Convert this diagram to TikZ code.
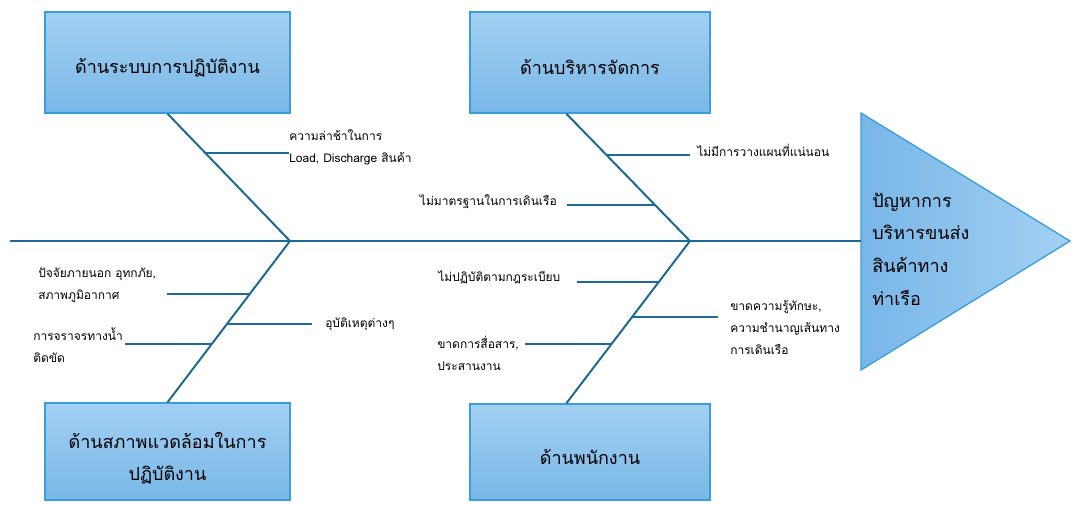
\documentclass[tikz,border=0pt]{standalone}
\usepackage{fontspec}
\setmainfont[Script=Thai]{Loma}
\usetikzlibrary{calc}
\definecolor{bone}{HTML}{1F6A93}
\definecolor{boxtop}{HTML}{A2D0F3}
\definecolor{boxbot}{HTML}{79B7E7}
\definecolor{boxline}{HTML}{3A9FD8}
\definecolor{trileft}{HTML}{78B6E8}
\definecolor{triright}{HTML}{A3D1F3}
\begin{document}
\begin{tikzpicture}[x=0.75pt,y=-0.75pt,
  bonestyle/.style={draw=bone,line width=1.5pt},
  cat/.style={rectangle,draw=boxline,line width=1pt,top color=boxtop,bottom color=boxbot},
  cattext/.style={font=\fontsize{13.5}{24}\selectfont,align=center,inner sep=0pt,text=black},
  lab/.style={font=\fontsize{9}{16.5}\selectfont,align=left,inner sep=0pt,text=black},
  headtext/.style={font=\fontsize{13.5}{24.5}\selectfont,align=left,inner sep=0pt,text=black}]
\useasboundingbox (0,0) rectangle (1072,505);

% category boxes
\node[cat,minimum width=183.75pt,minimum height=75.75pt] (b1) at (167.5,62.5) {};
\node[cat,minimum width=180pt,minimum height=75.75pt] (b2) at (590,62.5) {};
\node[cat,minimum width=183.75pt,minimum height=72.75pt] (b3) at (167.5,451.5) {};
\node[cat,minimum width=180pt,minimum height=72pt] (b4) at (590,452) {};
\node[cattext] (t1) at ($(b1)+(0,5)$) {ด้านระบบการปฏิบัติงาน};
\node[cattext] (t2) at ($(b2)+(0,5)$) {ด้านบริหารจัดการ};
\node[cattext] (t3) at ($(b3)+(0,7)$) {ด้านสภาพแวดล้อมในการ\\ปฏิบัติงาน};
\node[cattext] (t4) at ($(b4)+(0,5)$) {ด้านพนักงาน};

% head triangle
\path[draw=boxline,line width=1pt,left color=trileft,right color=triright]
  (861,113) -- (1070,241) -- (861,370) -- cycle;
\node[headtext,anchor=west] (head) at (872,249) {ปัญหาการ\\บริหารขนส่ง\\สินค้าทาง\\ท่าเรือ};

% spine
\coordinate (tail) at (10,241);
\coordinate (hd) at (861,241);
\coordinate (j1) at (290,241);
\coordinate (j2) at (690,241);
\draw[bonestyle] (tail) -- (hd);

% bone anchor points on boxes
\coordinate (s2) at ($(b2.south west)+(97,0)$);
\coordinate (s4) at ($(b4.north west)+(97,0)$);

% bones
\draw[bonestyle] (b1.south) -- (j1);
\draw[bonestyle] (s2) -- (j2);
\draw[bonestyle] (j1) -- (b3.north);
\draw[bonestyle] (j2) -- (s4);

% points on bones
\path (b1.south) -- (j1) coordinate[pos=0.3125] (p11);
\path (s2) -- (j2) coordinate[pos=0.328] (p21) coordinate[pos=0.719] (p22);
\path (j1) -- (b3.north) coordinate[pos=0.327] (p31) coordinate[pos=0.512] (p32) coordinate[pos=0.636] (p33);
\path (j2) -- (s4) coordinate[pos=0.252] (p41) coordinate[pos=0.466] (p42) coordinate[pos=0.632] (p43);

% branch free ends
\coordinate (e11) at (289,153);
\coordinate (e21) at (690,155);
\coordinate (e22) at (567,205);
\coordinate (e31) at (167,294);
\coordinate (e32) at (312,324);
\coordinate (e33) at (125,344);
\coordinate (e41) at (577,282);
\coordinate (e42) at (718,317);
\coordinate (e43) at (525,344);

\draw[bonestyle] (p11) -- (e11|-p11);
\draw[bonestyle] (p21) -- (e21|-p21);
\draw[bonestyle] (e22|-p22) -- (p22);
\draw[bonestyle] (e31|-p31) -- (p31);
\draw[bonestyle] (p32) -- (e32|-p32);
\draw[bonestyle] (e33|-p33) -- (p33);
\draw[bonestyle] (e41|-p41) -- (p41);
\draw[bonestyle] (p42) -- (e42|-p42);
\draw[bonestyle] (e43|-p43) -- (p43);

% labels
\node[lab,anchor=west] (l11) at (289,147) {ความล่าช้าในการ\\Load, Discharge สินค้า};
\node[lab,anchor=west] (l21) at (697,150) {ไม่มีการวางแผนที่แน่นอน};
\node[lab,anchor=east] (l22) at (557,202) {ไม่มาตรฐานในการเดินเรือ};
\node[lab,anchor=west] (l31) at (38,285) {ปัจจัยภายนอก อุทกภัย,\\สภาพภูมิอากาศ};
\node[lab,anchor=west] (l32) at (325,324) {อุบัติเหตุต่างๆ};
\node[lab,anchor=west] (l33) at (33,345) {การจราจรทางน้ำ\\ติดขัด};
\node[lab,anchor=west] (l41) at (438,277) {ไม่ปฏิบัติตามกฎระเบียบ};
\node[lab,anchor=west] (l42) at (730,328) {ขาดความรู้ทักษะ,\\ความชำนาญเส้นทาง\\การเดินเรือ};
\node[lab,anchor=west] (l43) at (437,353) {ขาดการสื่อสาร,\\ประสานงาน};
\end{tikzpicture}
\end{document}
